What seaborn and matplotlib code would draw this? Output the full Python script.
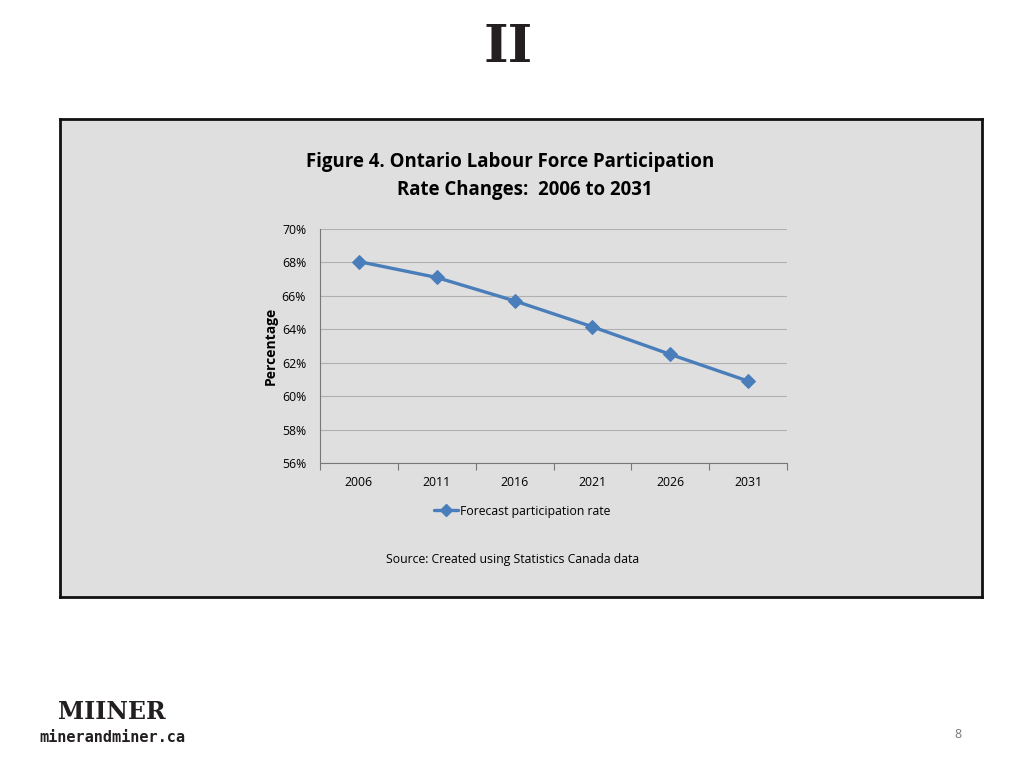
import matplotlib
matplotlib.use('Agg')
import matplotlib.pyplot as plt
import seaborn as sns
import pandas as pd
from matplotlib.ticker import FixedLocator, FuncFormatter
from matplotlib.lines import Line2D

# data
years = ['2006', '2011', '2016', '2021', '2026', '2031']
rate = [68.05, 67.1, 65.7, 64.15, 62.5, 60.9]
y_ticks = [56, 58, 60, 62, 64, 66, 68, 70]

df = pd.DataFrame({'pos': range(len(years)), 'rate': rate})

sns.set_style('white')
plt.rcParams['font.family'] = ['Open Sans', 'DejaVu Sans']
plt.rcParams['text.color'] = 'black'
plt.rcParams['axes.labelcolor'] = 'black'

blue = '#4a7ebb'
grey_bg = '#dfdfdf'

fig = plt.figure(figsize=(10.24, 7.68), dpi=100)
fig.patch.set_facecolor('white')

# gray box behind the chart
box = fig.add_axes([60 / 1024, 1 - 597 / 768, 922 / 1024, 478 / 768])
box.set_facecolor(grey_bg)
box.set_xticks([])
box.set_yticks([])
for s in box.spines.values():
    s.set_color('#111111')
    s.set_linewidth(2)
    s.set_visible(True)

ax = fig.add_axes([320 / 1024, 1 - 463 / 768, 467 / 1024, 234 / 768])
ax.set_facecolor(grey_bg)
sns.lineplot(data=df, x='pos', y='rate', ax=ax, color=blue, linewidth=2.4,
             marker='D', markersize=7, markeredgecolor=blue)

ax.set_xlim(-0.5, len(years) - 0.5)
ax.set_ylim(y_ticks[0], y_ticks[-1])
ax.yaxis.set_major_locator(FixedLocator(y_ticks))
ax.yaxis.set_major_formatter(FuncFormatter(lambda v, p: '%d%%' % v))
ax.grid(axis='y', color='#b0b0b0', linewidth=0.8)
ax.set_axisbelow(True)

# ticks between categories, labels in the middle
ax.xaxis.set_major_locator(FixedLocator([i - 0.5 for i in range(len(years) + 1)]))
ax.xaxis.set_major_formatter(FuncFormatter(lambda v, p: ''))
ax.xaxis.set_minor_locator(FixedLocator(list(range(len(years)))))
ax.set_xticklabels(years, minor=True)
ax.tick_params(axis='x', which='major', direction='out', length=5, color='#777777', width=0.8, bottom=True)
ax.tick_params(axis='x', which='minor', length=0, pad=9, labelsize=8.8, labelcolor='black')
ax.tick_params(axis='y', length=0, labelsize=8.8, labelcolor='black', pad=10)

for side in ['top', 'right']:
    ax.spines[side].set_visible(False)
ax.spines['left'].set_color('#777777')
ax.spines['bottom'].set_color('#777777')
ax.spines['left'].set_linewidth(0.8)
ax.spines['bottom'].set_linewidth(0.8)

ax.set_xlabel('')
ax.set_ylabel('Percentage', fontsize=10, fontweight='bold', labelpad=3)

# title
fig.text(510 / 1024, 1 - 162 / 768, 'Figure 4. Ontario Labour Force Participation',
         ha='center', va='center', fontsize=13.4, fontweight='bold')
fig.text(525 / 1024, 1 - 190 / 768, 'Rate Changes:  2006 to 2031',
         ha='center', va='center', fontsize=13.4, fontweight='bold')

# legend
handle = Line2D([], [], color=blue, linewidth=2.4, marker='D', markersize=6)
fig.legend(handles=[handle], labels=['Forecast participation rate'],
           loc='center', bbox_to_anchor=(522 / 1024, 1 - 511 / 768),
           frameon=False, fontsize=8.8, handlelength=2.0, handletextpad=0.1)

fig.text(513 / 1024, 1 - 560 / 768, 'Source: Created using Statistics Canada data',
         ha='center', va='center', fontsize=8.8)

# logos and page number
fig.text(508 / 1024, 1 - 48 / 768, 'II', ha='center', va='center', fontsize=38,
         fontweight='heavy', family='DejaVu Serif', color='#231f20')
fig.text(112 / 1024, 1 - 712 / 768, 'MIINER', ha='center', va='center', fontsize=17,
         fontweight='bold', family='DejaVu Serif', color='#231f20')
fig.text(112 / 1024, 1 - 737 / 768, 'minerandminer.ca', ha='center', va='center', fontsize=11,
         fontweight='bold', family='DejaVu Sans Mono', color='#231f20')
fig.text(958 / 1024, 1 - 734 / 768, '8', ha='center', va='center', fontsize=9, color='#777777')

fig.savefig('out.png', dpi=100)
